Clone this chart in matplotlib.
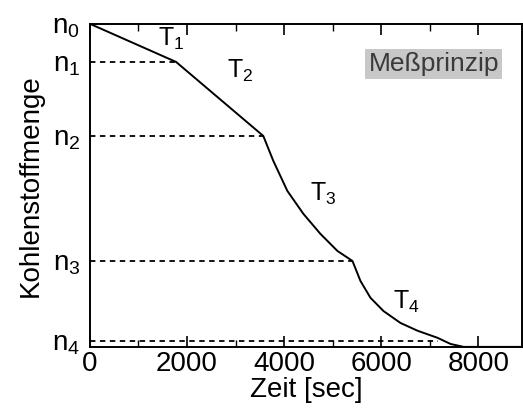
import matplotlib.pyplot as plt
from matplotlib.ticker import MultipleLocator

plt.rcParams['font.family'] = ['Liberation Sans', 'DejaVu Sans']
plt.rcParams['mathtext.fontset'] = 'custom'
plt.rcParams['mathtext.rm'] = 'Liberation Sans'
plt.rcParams['mathtext.it'] = 'Liberation Sans'

# carbon amount curve (normalised, n0 = 1)
zeit = [0, 1775, 3571, 3777, 4066, 4396, 4747, 5098, 5408,
        5573, 5779, 6047, 6398, 6749, 7162, 7430, 7699, 8900]
menge = [1.0, 0.882, 0.653, 0.576, 0.483, 0.412, 0.350, 0.297, 0.266,
         0.204, 0.152, 0.111, 0.074, 0.050, 0.028, 0.009, 0.0, 0.0]

# levels and where the dashed lines end
n_werte = [1.0, 0.882, 0.653, 0.266, 0.019]
n_labels = [r'$\mathregular{n_0}$', r'$\mathregular{n_1}$', r'$\mathregular{n_2}$',
            r'$\mathregular{n_3}$', r'$\mathregular{n_4}$']
n_ende = [1775, 3571, 5408, 7162]

# phase labels
t_labels = [r'$\mathregular{T_1}$', r'$\mathregular{T_2}$', r'$\mathregular{T_3}$', r'$\mathregular{T_4}$']
t_x = [1403, 2828, 4541, 6233]
t_y = [0.932, 0.833, 0.452, 0.118]

fig = plt.figure(figsize=(5.23, 4.11), dpi=100)
ax = fig.add_axes([0.172, 0.156, 0.826, 0.786])

ax.plot(zeit, menge, color='black', lw=1.4)
for n, x_end in zip(n_werte[1:], n_ende):
    ax.plot([0, x_end], [n, n], color='black', lw=1.3, ls=(0, (3, 2.5)))

for lab, x, y in zip(t_labels, t_x, t_y):
    ax.text(x, y, lab, fontsize=18, ha='left', va='baseline')

ax.text(0.947, 0.875, 'Meßprinzip', transform=ax.transAxes, fontsize=19,
        color='#3a3a3a', ha='right', va='center',
        bbox=dict(boxstyle='square,pad=0.12', fc='#c8c8c8', ec='none'))

ax.set_xlim(0, 8900)
ax.set_ylim(0, 1.0)
ax.set_xticks([0, 2000, 4000, 6000, 8000])
ax.xaxis.set_minor_locator(MultipleLocator(1000))
ax.tick_params(axis='x', which='major', direction='in', length=8, width=1.2,
               top=True, labelsize=20, pad=3)
ax.tick_params(axis='x', which='minor', direction='in', length=5, width=1,
               top=True)
ax.set_yticks(n_werte)
ax.set_yticklabels(n_labels)
ax.tick_params(axis='y', length=0, labelsize=20, pad=7)

for s in ax.spines.values():
    s.set_linewidth(1.4)

ax.set_xlabel('Zeit [sec]', fontsize=20, labelpad=0)
ax.set_ylabel('Kohlenstoffmenge', fontsize=20, labelpad=6)

fig.savefig('out.png', dpi=100)
